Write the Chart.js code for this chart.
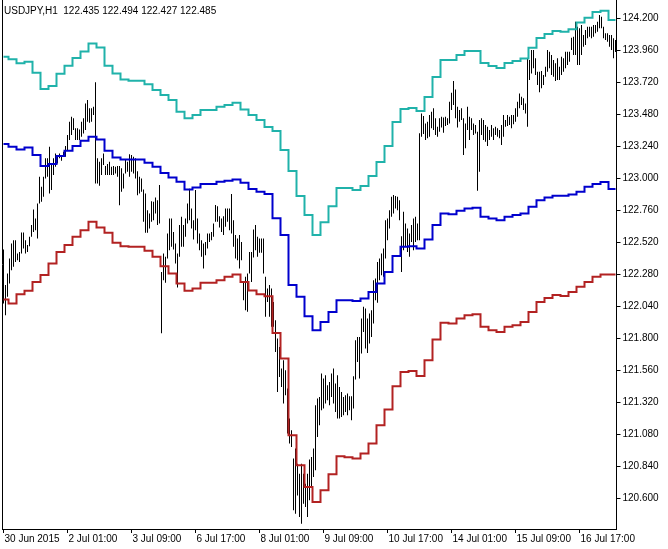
<!DOCTYPE html>
<html>
<head>
<meta charset="utf-8">
<title>USDJPY,H1</title>
<script src="https://cdn.jsdelivr.net/npm/chart.js@4.4.0/dist/chart.umd.min.js"></script>
<style>
  html, body { margin: 0; padding: 0; background: #fff; }
  #chart { display: block; }
</style>
</head>
<body>
<canvas id="chart" width="668" height="549"></canvas>
<script>
// header line of the chart window
const headerText = 'USDJPY,H1  122.435 122.494 122.427 122.485';

// time axis labels, one every 32 hourly bars
const tickLabels = ['30 Jun 2015', '2 Jul 01:00', '3 Jul 09:00', '6 Jul 17:00', '8 Jul 01:00',
  '9 Jul 09:00', '10 Jul 17:00', '14 Jul 01:00', '15 Jul 09:00', '16 Jul 17:00'];

// price axis labels
const priceTicks = [124.2, 123.96, 123.72, 123.48, 123.24, 123.0, 122.76, 122.52,
  122.28, 122.04, 121.8, 121.56, 121.32, 121.08, 120.84, 120.6];

// H1 bars, high / low (30 Jun 17:00 .. 17 Jul 11:00)
const barHigh = [
  122.467,122.200,122.287,122.400,122.512,122.537,122.537,122.437,122.449,122.595,
  122.595,122.537,122.500,122.562,122.650,122.767,122.700,122.812,123.012,122.937,
  123.012,123.150,123.150,123.237,123.112,123.150,123.187,123.175,123.187,123.175,
  123.199,123.242,123.325,123.424,123.462,123.450,123.375,123.375,123.367,123.424,
  123.450,123.562,123.587,123.525,123.525,123.537,123.720,123.150,123.124,123.150,
  123.187,123.092,123.107,123.124,123.087,123.092,123.087,123.092,123.092,123.075,
  123.037,123.137,123.124,123.180,123.175,123.162,123.150,123.054,123.012,123.000,
  122.917,122.887,122.762,122.737,122.829,122.824,122.857,122.837,122.950,122.299,
  122.437,122.412,122.587,122.700,122.700,122.599,122.512,122.437,122.650,122.712,
  122.650,122.700,122.812,122.922,122.775,122.687,122.912,122.700,122.587,122.537,
  122.512,122.524,122.587,122.587,122.599,122.662,122.800,122.792,122.717,122.700,
  122.717,122.775,122.775,122.775,122.882,122.687,122.575,122.550,122.575,122.524,
  122.224,122.262,122.287,122.449,122.449,122.617,122.650,122.562,122.550,122.550,
  122.550,122.262,122.174,122.200,122.174,122.074,121.937,121.800,121.737,121.575,
  121.637,121.562,121.425,121.200,121.112,120.900,120.975,120.862,120.787,120.862,
  120.787,120.712,120.787,120.892,120.912,120.975,121.299,121.350,121.362,121.537,
  121.500,121.525,121.450,121.474,121.537,121.575,121.462,121.525,121.437,121.399,
  121.362,121.374,121.387,121.367,121.367,121.517,121.787,121.812,121.812,121.950,
  122.037,122.025,121.950,121.987,122.012,122.237,122.250,122.374,122.400,122.437,
  122.475,122.687,122.700,122.762,122.862,122.875,122.867,122.862,122.837,122.567,
  122.749,122.662,122.624,122.587,122.650,122.700,122.712,122.662,123.339,123.487,
  123.467,123.412,123.424,123.475,123.499,123.525,123.450,123.387,123.450,123.462,
  123.457,123.462,123.450,123.574,123.642,123.730,123.667,123.537,123.512,123.525,
  123.450,123.412,123.537,123.462,123.450,123.412,123.400,123.349,123.437,123.450,
  123.437,123.400,123.387,123.362,123.400,123.375,123.387,123.375,123.362,123.400,
  123.475,123.437,123.475,123.462,123.475,123.475,123.525,123.574,123.637,123.612,
  123.600,123.562,123.900,123.887,123.962,123.962,123.900,123.799,123.799,123.804,
  123.775,123.837,123.962,123.949,123.925,123.887,123.862,123.900,123.837,123.912,
  123.900,123.949,123.949,123.949,124.054,124.062,124.174,124.137,124.125,124.150,
  124.075,124.112,124.137,124.137,124.137,124.150,124.150,124.174,124.225,124.212,
  124.137,124.087,124.087,124.075,124.075,124.050,124.037
];
const barLow = [
  122.062,121.975,122.112,122.212,122.312,122.337,122.374,122.387,122.374,122.437,
  122.475,122.437,122.449,122.492,122.562,122.599,122.612,122.550,122.812,122.824,
  122.862,123.000,123.012,122.887,122.912,123.025,123.087,123.112,123.150,123.132,
  123.162,123.162,123.212,123.287,123.325,123.362,123.287,123.287,123.287,123.312,
  123.337,123.362,123.424,123.417,123.424,123.475,122.962,122.962,122.944,123.025,
  123.100,123.025,123.025,123.025,123.025,123.025,123.037,123.012,122.799,122.899,
  122.925,123.037,123.049,123.012,123.049,123.037,123.000,122.874,122.887,122.899,
  122.674,122.592,122.592,122.625,122.674,122.687,122.737,122.650,122.662,121.840,
  122.237,122.217,122.400,122.462,122.487,122.467,122.362,122.182,122.412,122.487,
  122.487,122.562,122.662,122.687,122.625,122.542,122.612,122.512,122.462,122.412,
  122.325,122.424,122.475,122.524,122.537,122.562,122.674,122.674,122.632,122.599,
  122.575,122.637,122.674,122.612,122.587,122.487,122.400,122.387,122.325,122.387,
  122.087,122.012,122.000,122.287,122.224,122.407,122.462,122.412,122.442,122.442,
  122.287,121.962,122.074,121.962,121.887,121.887,121.699,121.399,121.512,121.437,
  121.312,121.374,121.087,121.012,120.987,120.512,120.487,120.624,120.462,120.412,
  120.562,120.537,120.462,120.587,120.687,120.762,120.812,121.062,121.150,121.262,
  121.275,121.312,121.337,121.299,121.362,121.312,121.249,121.200,121.200,121.212,
  121.225,121.249,121.225,121.262,121.187,121.275,121.492,121.624,121.500,121.687,
  121.849,121.725,121.692,121.762,121.812,121.912,122.087,122.067,122.237,122.274,
  122.262,122.400,122.537,122.624,122.712,122.737,122.775,122.762,122.687,122.299,
  122.462,122.487,122.449,122.412,122.524,122.462,122.524,122.537,122.537,123.312,
  123.332,123.287,123.300,123.312,123.375,123.362,123.325,123.312,123.349,123.382,
  123.342,123.392,123.400,123.412,123.512,123.550,123.450,123.382,123.424,123.437,
  123.175,123.225,123.362,123.287,123.362,123.325,123.337,122.907,123.049,123.325,
  123.287,123.274,123.242,123.287,123.312,123.287,123.325,123.312,123.300,123.250,
  123.312,123.387,123.392,123.400,123.375,123.405,123.424,123.462,123.525,123.550,
  123.512,123.487,123.387,123.737,123.787,123.825,123.775,123.699,123.645,123.675,
  123.699,123.762,123.799,123.825,123.775,123.762,123.730,123.737,123.737,123.775,
  123.799,123.825,123.850,123.874,123.962,123.925,123.925,123.850,123.850,123.925,
  123.987,124.000,124.050,124.062,124.050,124.062,124.087,124.099,124.125,124.125,
  124.050,124.037,124.024,123.987,123.962,123.900,123.947
];

// channel lines, one value per H4 period
const upperBand = [
  123.912,123.892,123.862,123.874,123.792,123.670,123.692,123.784,123.844,123.902,
  123.951,124.011,123.981,123.844,123.787,123.742,123.732,123.732,123.705,123.662,
  123.625,123.587,123.499,123.450,123.475,123.512,123.512,123.537,123.550,123.567,
  123.517,123.475,123.437,123.385,123.355,123.212,123.055,122.867,122.725,122.575,
  122.672,122.792,122.927,122.927,122.912,122.942,123.017,123.122,123.242,123.422,
  123.520,123.527,123.505,123.610,123.760,123.887,123.887,123.925,123.955,123.955,
  123.865,123.842,123.827,123.865,123.880,123.898,123.979,124.052,124.082,124.105,
  124.099,124.117,124.168,124.204,124.247,124.257,124.187
];
const middleBand = [
  123.257,123.237,123.217,123.232,123.175,123.092,123.107,123.167,123.207,123.242,
  123.282,123.312,123.292,123.207,123.157,123.142,123.142,123.142,123.117,123.087,
  123.040,123.007,122.974,122.917,122.932,122.957,122.957,122.974,122.982,122.992,
  122.967,122.920,122.899,122.882,122.702,122.575,122.200,122.112,121.967,121.862,
  121.924,121.999,122.087,122.087,122.080,122.100,122.149,122.212,122.299,122.419,
  122.487,122.492,122.475,122.542,122.650,122.737,122.732,122.757,122.775,122.779,
  122.712,122.700,122.687,122.712,122.725,122.737,122.787,122.837,122.857,122.869,
  122.869,122.880,122.899,122.937,122.957,122.972,122.920
];
const lowerBand = [
  122.092,122.062,122.132,122.157,122.224,122.275,122.362,122.449,122.500,122.562,
  122.612,122.674,122.632,122.592,122.517,122.492,122.487,122.487,122.457,122.412,
  122.342,122.287,122.212,122.157,122.175,122.217,122.217,122.237,122.262,122.280,
  122.224,122.160,122.132,122.117,121.842,121.650,121.075,120.850,120.687,120.574,
  120.662,120.782,120.917,120.910,120.900,120.937,121.012,121.150,121.267,121.442,
  121.549,121.557,121.519,121.637,121.792,121.917,121.912,121.950,121.975,121.982,
  121.887,121.862,121.849,121.887,121.900,121.924,121.999,122.074,122.104,122.125,
  122.119,122.149,122.187,122.224,122.262,122.280,122.280
];

// hourly bar times (no weekend bars) and the H4 period each bar belongs to
const months = ['Jan','Feb','Mar','Apr','May','Jun','Jul','Aug','Sep','Oct','Nov','Dec'];
const barTimes = [];
const h4Index = [];
let t = Date.UTC(2015, 5, 30, 17);
let h4 = -1;
while (barTimes.length < barHigh.length) {
  const d = new Date(t);
  const day = d.getUTCDay();
  if (day !== 0 && day !== 6) {
    if (h4 < 0 || d.getUTCHours() % 4 === 0) h4++;
    barTimes.push(d.getUTCDate() + ' ' + months[d.getUTCMonth()] + ' ' +
      String(d.getUTCHours()).padStart(2, '0') + ':00');
    h4Index.push(h4);
  }
  t += 3600000;
}

const frame = {
  id: 'frame',
  afterDraw(chart) {
    const { ctx, chartArea } = chart;
    ctx.save();
    ctx.strokeStyle = '#000';
    ctx.lineWidth = 1;
    ctx.beginPath();
    ctx.moveTo(2.5, chartArea.top);
    ctx.lineTo(2.5, chartArea.bottom);
    ctx.stroke();
    ctx.fillStyle = '#000';
    ctx.font = '10px "Liberation Sans", Arial, sans-serif';
    ctx.textBaseline = 'alphabetic';
    ctx.fillText(headerText, 4, 14);
    ctx.restore();
  }
};

Chart.defaults.font.family = '"Liberation Sans", Arial, sans-serif';
Chart.defaults.font.size = 10;
Chart.defaults.color = '#000';

const lineSet = (values, colour) => ({
  type: 'line',
  data: h4Index.map(k => values[k]),
  borderColor: colour,
  borderWidth: 2,
  pointRadius: 0,
  fill: false,
  stepped: 'middle'
});

var ctx = document.getElementById('chart').getContext('2d');
var chart = new Chart(ctx, {
  type: 'bar',
  data: {
    labels: barTimes,
    datasets: [
      lineSet(upperBand, '#20b2aa'),
      lineSet(middleBand, '#0000cd'),
      lineSet(lowerBand, '#b22222'),
      {
        type: 'bar',
        data: barLow.map((lo, i) => [lo, barHigh[i]]),
        backgroundColor: '#000',
        borderWidth: 0,
        barThickness: 1,
        inflateAmount: 0
      }
    ]
  },
  options: {
    responsive: false,
    devicePixelRatio: 1,
    animation: false,
    events: [],
    layout: { padding: { left: 2.5, top: 0, right: 0, bottom: 0 } },
    plugins: {
      legend: { display: false },
      tooltip: { enabled: false }
    },
    scales: {
      x: {
        type: 'category',
        position: 'bottom',
        offset: true,
        afterBuildTicks: s => { s.ticks = s.ticks.filter(tk => tk.value % 32 === 0); },
        afterFit: s => { s.height = 20; s.paddingLeft = 0; s.paddingRight = 0; },
        grid: { offset: false, drawOnChartArea: false, tickLength: 4, color: '#000' },
        border: { color: '#000' },
        ticks: {
          autoSkip: false, maxRotation: 0, minRotation: 0,
          align: 'start', labelOffset: 1, padding: 0,
          callback: v => tickLabels[v / 32]
        }
      },
      y: {
        type: 'linear',
        position: 'right',
        min: 120.372,
        max: 124.337,
        afterBuildTicks: s => { s.ticks = priceTicks.map(v => ({ value: v })); },
        afterFit: s => { s.width = 51.5; s.paddingTop = 0; s.paddingBottom = 0; },
        grid: { drawOnChartArea: false, tickLength: 4, color: '#000' },
        border: { color: '#000' },
        ticks: { padding: 2, callback: v => Number(v).toFixed(3) }
      }
    }
  },
  plugins: [frame]
});
</script>
</body>
</html>
